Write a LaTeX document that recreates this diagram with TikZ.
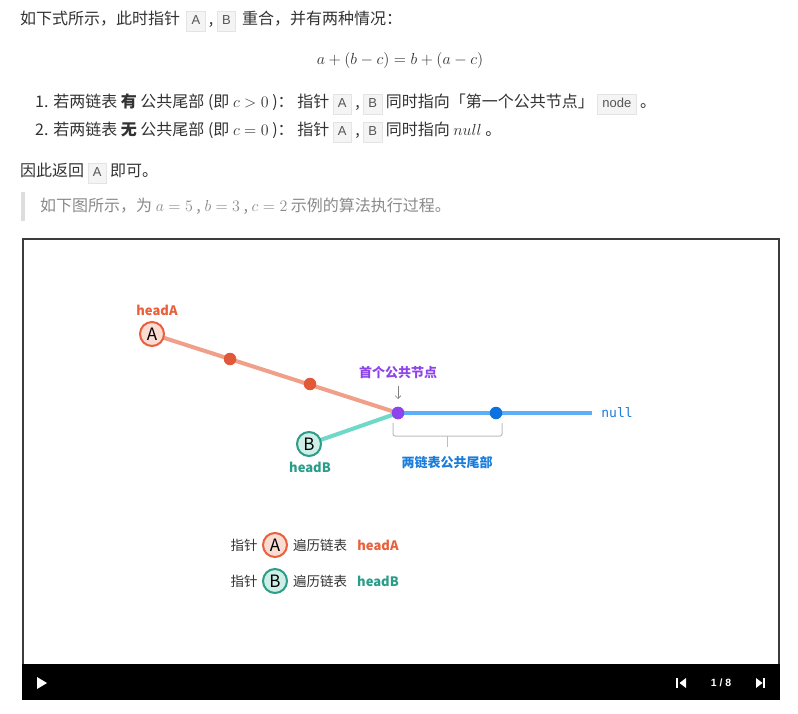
\documentclass[tikz,border=0pt]{standalone}
\usepackage{fix-cm}
\usepackage{fontspec}
\setmainfont{Noto Sans CJK SC}
\setmonofont{DejaVu Sans Mono}
\newfontfamily\liber{Liberation Sans}
\usetikzlibrary{arrows.meta}
\definecolor{bodytext}{HTML}{333333}
\definecolor{codebg}{HTML}{F4F4F4}
\definecolor{codeborder}{HTML}{E4E4E4}
\definecolor{codetext}{HTML}{555555}
\definecolor{quotetext}{HTML}{8A8A8A}
\definecolor{quotebar}{HTML}{DDDDDD}
\definecolor{frameline}{HTML}{3C3C3C}
\definecolor{oline}{HTML}{F0A088}
\definecolor{odot}{HTML}{E2593A}
\definecolor{otext}{HTML}{E8603C}
\definecolor{ofill}{HTML}{FBDCD3}
\definecolor{tline}{HTML}{6ED9C9}
\definecolor{tborder}{HTML}{2D9C88}
\definecolor{tfill}{HTML}{CDEFE8}
\definecolor{ttext}{HTML}{2A9D8A}
\definecolor{purp}{HTML}{8E44EC}
\definecolor{bline}{HTML}{5BAEF7}
\definecolor{bdot}{HTML}{0B72E0}
\definecolor{btext}{HTML}{1A7CDB}
\definecolor{brack}{HTML}{BDBDBD}
\newcommand\cbox[1]{{\setlength\fboxsep{2.5pt}\setlength\fboxrule{0.6pt}\fcolorbox{codeborder}{codebg}{\fontsize{13}{16}\selectfont\liber\color{codetext}\rule[-4pt]{0pt}{15pt}\hspace{2pt}#1\hspace{2pt}}}}
\tikzset{
  txt/.style={inner sep=0pt, anchor=base west, text=bodytext, font=\fontsize{16}{19}\selectfont},
  qtxt/.style={txt, text=quotetext},
  lbl/.style={inner sep=0pt, font=\fontsize{13}{15}\selectfont\bfseries},
  headnodeA/.style={circle, draw=otext, fill=ofill, line width=2pt, minimum size=24pt, inner sep=0pt, font=\fontsize{17}{17}\selectfont, text=black},
  headnodeB/.style={circle, draw=tborder, fill=tfill, line width=2pt, minimum size=24pt, inner sep=0pt, font=\fontsize{17}{17}\selectfont, text=black},
  dotnode/.style={circle, minimum size=12.5pt, inner sep=0pt},
  legtxt/.style={inner sep=0pt, font=\fontsize{13.5}{16}\selectfont, text=bodytext},
}
\begin{document}
\begin{tikzpicture}[x=1pt,y=-1pt]
\useasboundingbox (0,0) rectangle (798,714);
\fill[white] (0,0) rectangle (798,714);
% text above
\node[txt] (l1) at (20,25) {如下式所示，此时指针\ \,\cbox{A}\ ,\ \cbox{B}\ \,重合，并有两种情况：};
\node[inner sep=0pt, anchor=base, text=bodytext, font=\fontsize{16}{19}\selectfont] (eq) at (400,65) {$a+(b-c)=b+(a-c)$};
\node[txt] (i1) at (35,108) {1. 若两链表 \textbf{有} 公共尾部 (即 $c>0$ )： 指针 \cbox{A}\ ,\ \cbox{B}\ 同时指向「第一个公共节点」 \cbox{node}\ 。};
\node[txt] (i2) at (35,136) {2. 若两链表 \textbf{无} 公共尾部 (即 $c=0$ )： 指针 \cbox{A}\ ,\ \cbox{B}\ 同时指向 $null$ 。};
\node[txt] (l3) at (20,177) {因此返回 \cbox{A}\ 即可。};
\fill[quotebar] (21,192) rectangle (25,221);
\node[qtxt] (q) at (40,212) {如下图所示，为 $a=5$ , $b=3$ , $c=2$ 示例的算法执行过程。};
% frame
\draw[frameline, line width=1.6pt] (22.8,664) -- (22.8,238.8) -- (779.2,238.8) -- (779.2,664);
\fill[black] (22,664) rectangle (780,700);
% diagram
\node[dotnode, fill=purp] (P) at (398,413) {};
\coordinate (nullend) at (592,413);
\coordinate (Ac) at (152,334);
\coordinate (Bc) at (309,444);
\draw[oline, line width=4pt] (Ac) -- (P.center);
\draw[tline, line width=4pt] (Bc) -- (P.center);
\draw[bline, line width=4pt] (P.center) -- (nullend);
\node[dotnode, fill=odot] (d1) at (230,359) {};
\node[dotnode, fill=odot] (d2) at (310,384) {};
\node[dotnode, fill=purp] (P2) at (398,413) {};
\node[dotnode, fill=bdot] (T) at (496,413) {};
\node[headnodeA] (A) at (Ac) {A};
\node[headnodeB] (B) at (Bc) {B};
\node[lbl, text=otext] (hA) at (157,310) {headA};
\node[lbl, text=ttext] (hB) at (310,467) {headB};
\node[inner sep=0pt, font=\fontsize{13}{15}\selectfont\ttfamily, text=btext] (nul) at (617,413) {null};
\node[lbl, text=purp] (first) at (398,373) {首个公共节点};
\coordinate (arrtop) at (398,386);
\coordinate (arrbot) at (398,399);
\draw[-{Straight Barb[length=3pt,width=6pt]}, gray, line width=0.6pt] (arrtop) -- (arrbot);
\coordinate (bl) at (393,423);
\coordinate (br) at (502,423);
\coordinate (bm) at (447,436);
\coordinate (bt) at (447,447);
\draw[brack, line width=1pt, rounded corners=2pt] (bl) -- (393,436) -- (502,436) -- (br);
\draw[brack, line width=1pt] (bm) -- (bt);
\node[lbl, text=btext] (tail) at (447,463) {两链表公共尾部};
% legend
\node[legtxt] (lg1a) at (244,545) {指针};
\node[headnodeA] (lgA) at (275,545) {A};
\node[legtxt] (lg1b) at (320,545) {遍历链表};
\node[lbl, text=otext] (lg1c) at (378,545) {headA};
\node[legtxt] (lg2a) at (244,581) {指针};
\node[headnodeB] (lgB) at (275,581) {B};
\node[legtxt] (lg2b) at (320,581) {遍历链表};
\node[lbl, text=ttext] (lg2c) at (378,581) {headB};
% control bar
\fill[white] (37,677) -- (37,689) -- (47,683) -- cycle;
\fill[white] (676,678) rectangle (678,688);
\fill[white] (686,678) -- (686,688) -- (679.5,683) -- cycle;
\node[inner sep=0pt, font=\fontsize{10.5}{12}\selectfont\liber\bfseries, text=white] (pg) at (721,683) {1 / 8};
\fill[white] (756,678) -- (756,688) -- (762.5,683) -- cycle;
\fill[white] (763,678) rectangle (765,688);
\end{tikzpicture}
\end{document}
